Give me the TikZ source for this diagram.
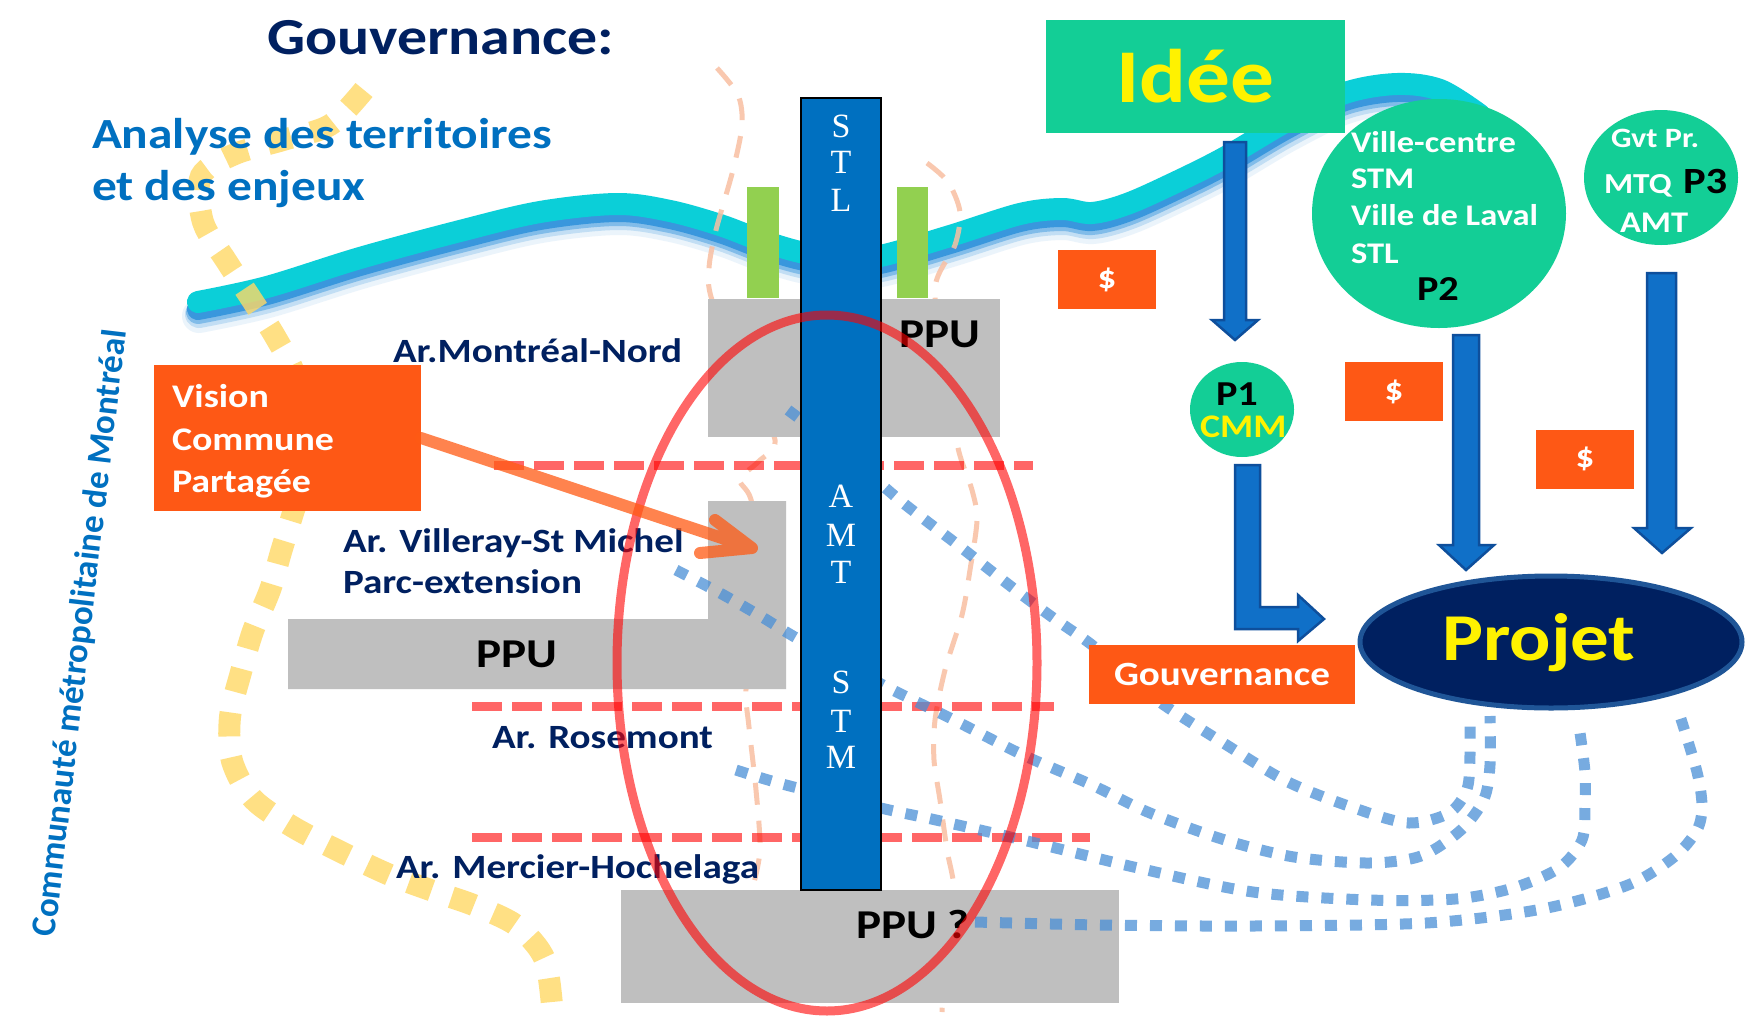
\documentclass[tikz,border=0pt]{standalone}
\usepackage{fontspec}
\setmainfont{Carlito}[FakeStretch=1.15]
\newfontfamily\plainsans{Carlito}
\newfontfamily\serifletters{Liberation Serif}
\usetikzlibrary{calc,shapes.geometric}
\newcommand\fsz[1]{\fontsize{#1}{#1}\selectfont}
\definecolor{navy}{HTML}{002060}
\definecolor{tblue}{HTML}{0070C0}
\definecolor{obox}{HTML}{FE5815}
\definecolor{mint}{HTML}{13CE96}
\definecolor{wavecyan}{HTML}{0BCFD8}
\definecolor{waveblue}{HTML}{0A7FD6}
\definecolor{grnbar}{HTML}{92D050}
\definecolor{gbox}{HTML}{BFBFBF}
\definecolor{arrfill}{HTML}{1070C8}
\definecolor{arredge}{HTML}{0E4F9C}
\definecolor{projedge}{HTML}{1F5597}
\definecolor{dotblue}{HTML}{4A8FD6}
\definecolor{ydot}{HTML}{FFD966}
\definecolor{peach}{HTML}{F9BFA2}
\definecolor{oarrow}{HTML}{FF5A14}
\newcommand\wavepath{plot[smooth,tension=0.55] coordinates {(198,302) (267,287) (360,258) (460,231) (540,212) (617,204) (670,211) (720,225) (760,240) (800,252) (840,258) (880,256) (950,236) (1020,214) (1062,209) (1092,213) (1127,204) (1172,184) (1224,158) (1287,121) (1345,93) (1397,84) (1440,90) (1480,115)}}
\tikzset{
  every node/.style={inner sep=0pt, outer sep=0pt},
  navylbl/.style={anchor=base west, text=navy, font=\bfseries\fsz{34}},
  ppulbl/.style={anchor=base west, text=black, font=\bfseries\fsz{41}},
  wlbl/.style={anchor=base west, text=white, font=\bfseries\fsz{#1}},
  blbl/.style={anchor=base west, text=black, font=\bfseries\fsz{#1}},
  graybox/.style={fill=gbox, rectangle},
  obox/.style={fill=obox, rectangle},
  dollar/.style={fill=obox, rectangle, minimum width=98pt, minimum height=59pt, text=white, font=\bfseries\fsz{32}},
  pell/.style={ellipse, fill=mint},
  blockarr/.style={fill=arrfill, draw=arredge, line width=2.5pt, line join=miter},
  dotb/.style={draw=dotblue, opacity=0.75, line width=11pt, dash pattern=on 12pt off 13pt},
  ydots/.style={draw=ydot, opacity=0.8, line width=22pt, dash pattern=on 24pt off 21pt},
  peachdash/.style={draw=peach, opacity=0.85, line width=5pt, dash pattern=on 22pt off 16pt},
  reddash/.style={draw=red, opacity=0.6, line width=9pt, dash pattern=on 30pt off 10pt},
  barletter/.style={anchor=base, text=white, font=\serifletters\fsz{34}},
  oarr/.style={draw=oarrow, opacity=0.75, line width=12pt, line cap=round, line join=round},
}
\begin{document}
\begin{tikzpicture}[x=1pt,y=-1pt]
\useasboundingbox (0,0) rectangle (1754,1018);
\fill[white] (0,0) rectangle (1754,1018);

% cyan wave with soft blue glow
\draw[line width=34pt, waveblue, opacity=0.08, line cap=round, shift={(1,14)}] \wavepath;
\draw[line width=28pt, waveblue, opacity=0.18, line cap=round, shift={(1,12)}] \wavepath;
\draw[line width=24pt, waveblue, opacity=0.35, line cap=round, shift={(0,10)}] \wavepath;
\draw[line width=22pt, waveblue, opacity=0.6, line cap=round, shift={(0,7)}] \wavepath;
\draw[line width=22pt, wavecyan, line cap=round] \wavepath;

% yellow dotted boundary
\draw[ydots] plot[smooth,tension=0.5] coordinates {(364,90) (330,125) (283,140) (235,154) (201,176) (203,222) (227,262) (252,300) (276,338) (296,378) (306,440) (300,490) (293,513) (281,552) (270,590) (253,631) (241,672) (230,717) (232,761) (253,799) (293,827) (339,851) (390,875) (436,892) (476,906) (517,926) (545,960) (553,1018)};

% peach dashed curves
\draw[peachdash] plot[smooth,tension=0.5] coordinates {(717,68) (738,95) (742,125) (733,170) (716,230) (709,268) (712,300) (745,380) (775,440) (758,462) (740,480) (752,505) (752,600) (746,689) (749,727) (756,790) (760,850) (752,890)};
\draw[peachdash] plot[smooth,tension=0.5] coordinates {(927,163) (948,182) (960,212) (955,245) (935,288) (945,370) (958,448) (972,490) (977,520) (970,570) (962,615) (945,670) (935,720) (934,760) (940,800) (947,850) (954,892) (945,950) (942,1012)};

% gray PPU areas
\node[graybox, minimum width=292pt, minimum height=138pt] (ppuA) at (854,368) {};
\fill[gbox] (708,501) -- (786,501) -- (786,689) -- (288,689) -- (288,619) -- (708,619) -- cycle;
\coordinate (ppuB) at (747,560);
\node[graybox, minimum width=498pt, minimum height=113pt] (ppuC) at (870,946.5) {};

% green bars
\fill[grnbar] (747,187) rectangle (779,298);
\fill[grnbar] (897,187) rectangle (928,298);

% red dashed borough limits
\draw[reddash] (494,465) -- (1033,465);
\draw[reddash] (472,706) -- (1054,706);
\draw[reddash] (472,837) -- (1090,837);

% blue dotted links
\draw[dotb] plot[smooth,tension=0.5] coordinates {(788,410) (847,455) (902,502) (958,545) (1013,588) (1052,617) (1092,645) (1130,678) (1164,705) (1225,744) (1288,782) (1357,809) (1409,823) (1449,813) (1467,789) (1470,755) (1470,716)};
\draw[dotb] plot[smooth,tension=0.5] coordinates {(676,570) (720,593) (762,617) (800,640) (885,686) (954,720) (1023,755) (1092,785) (1150,813) (1225,840) (1294,857) (1369,863) (1421,856) (1461,830) (1484,799) (1490,765) (1490,716)};
\draw[dotb] plot[smooth,tension=0.5] coordinates {(736,770) (786,785) (885,809) (936,820) (1023,840) (1138,868) (1253,892) (1369,900) (1455,899) (1513,888) (1559,868) (1582,840) (1585,806) (1585,772) (1579,726)};
\draw[dotb] plot[smooth,tension=0.5] coordinates {(975,922) (1100,925) (1253,926) (1426,923) (1542,909) (1628,885) (1674,857) (1697,830) (1702,806) (1697,772) (1680,716)};

% vertical STL / AMT / STM bar
\node[draw=black, line width=2pt, fill=tblue, minimum width=80pt, minimum height=792pt] (bar) at (841,494) {};
\foreach \l/\y in {S/137,T/173,L/211,A/507,M/546,T/583,S/693,T/732,M/768}
  \node[barletter] (bl\y) at (841,\y) {\l};

% Gouvernance box
\node[obox, minimum width=266pt, minimum height=59pt, text=white, font=\bfseries\fsz{34}, text height=22pt, text depth=0pt] (gouv) at (1222,674.5) {Gouvernance};

% titles and labels
\node[anchor=base west, text=navy, font=\bfseries\fsz{52}] (title) at (267,54) {Gouvernance:};
\node[anchor=base west, text=tblue, font=\bfseries\fsz{43}] (an1) at (92,148) {Analyse des territoires};
\node[anchor=base west, text=tblue, font=\bfseries\fsz{43}] (an2) at (92,200) {et des enjeux};
\node[rotate=83.3, text=tblue, font=\plainsans\bfseries\fsz{35}] (cmm) at (81,633) {Communauté métropolitaine de Montréal};

\node[navylbl] (mn) at (393,362) {Ar.Montréal-Nord};
\node[navylbl] (vs) at (343,552) {Ar. Villeray-St Michel};
\node[navylbl] (pe) at (343,593) {Parc-extension};
\node[navylbl] (ro) at (492,748) {Ar. Rosemont};
\node[navylbl] (mh) at (396,878) {Ar. Mercier-Hochelaga};

\node[ppulbl] (ppu1) at (899,347) {PPU};
\node[ppulbl] (ppu2) at (476,667) {PPU};
\node[ppulbl] (ppu3) at (856,938) {PPU ?};

% Vision box
\node[obox, minimum width=267pt, minimum height=146pt] (vision) at (287.5,438) {};
\node[wlbl=33] (v1) at (172,407) {Vision};
\node[wlbl=33] (v2) at (172,450) {Commune};
\node[wlbl=33] (v3) at (172,492) {Partagée};

% red ring
\node[ellipse, draw=red, draw opacity=0.6, line width=9pt, minimum width=420pt, minimum height=696pt] (ring) at (827,663) {};

% orange arrow
\coordinate (vtip) at (752,548);
\draw[oarr] (vision.east) -- (vtip) ($(vtip)+(-37,-28)$) -- (vtip) -- ($(vtip)+(-52,5)$);

% right side
\node[fill=mint, minimum width=299pt, minimum height=113pt, text=yellow, font=\bfseries\fsz{76}, text height=51pt, text depth=0pt] (idee) at (1195.5,76.5) {Idée};
\node[dollar] (d1) at (1107,279.5) {\$};
\node[dollar] (d2) at (1394,391.5) {\$};
\node[dollar] (d3) at (1585,459) {\$};

\node[pell, minimum width=104pt, minimum height=95pt] (p1) at (1242,409.5) {};
\node[pell, minimum width=254pt, minimum height=229pt] (p2) at (1439,213.5) {};
\node[pell, minimum width=154pt, minimum height=135pt] (p3) at (1661,177.5) {};

\node[blbl=35] (p1a) at (1216,405) {P1};
\node[anchor=base west, text=yellow, font=\bfseries\fsz{33}] (p1b) at (1200,437) {CMM};

\node[wlbl=30] (p2a) at (1351,152) {Ville-centre};
\node[wlbl=30] (p2b) at (1351,188) {STM};
\node[wlbl=30] (p2c) at (1351,225) {Ville de Laval};
\node[wlbl=30] (p2d) at (1351,263) {STL};
\node[blbl=35] (p2e) at (1417,300) {P2};

\node[wlbl=28] (p3a) at (1611,147) {Gvt Pr.};
\node[wlbl=29] (p3b) at (1604,193) {MTQ};
\node[blbl=37] (p3c) at (1683,193) {P3};
\node[wlbl=30] (p3d) at (1620,232) {AMT};

\node[ellipse, fill=navy, draw=projedge, line width=5pt, minimum width=382pt, minimum height=132pt] (projet) at (1551,642) {};
\node[anchor=base, text=yellow, font=\bfseries\fsz{67}] (projetlbl) at (1539,660) {Projet};

% block arrows
\draw[blockarr] (1224,142) -- (1246,142) -- (1246,320) -- (1258,320) -- (1235,340) -- (1212,320) -- (1224,320) -- cycle;
\draw[blockarr] (1235,465) -- (1260,465) -- (1260,607) -- (1298,607) -- (1298,595) -- (1324,619) -- (1298,641) -- (1298,629) -- (1235,629) -- cycle;
\draw[blockarr] (1453,335) -- (1479,335) -- (1479,545) -- (1494,545) -- (1466,570) -- (1439,545) -- (1453,545) -- cycle;
\draw[blockarr] (1647,273) -- (1676,273) -- (1676,528) -- (1691,528) -- (1662,553) -- (1634,528) -- (1647,528) -- cycle;
\end{tikzpicture}
\end{document}
